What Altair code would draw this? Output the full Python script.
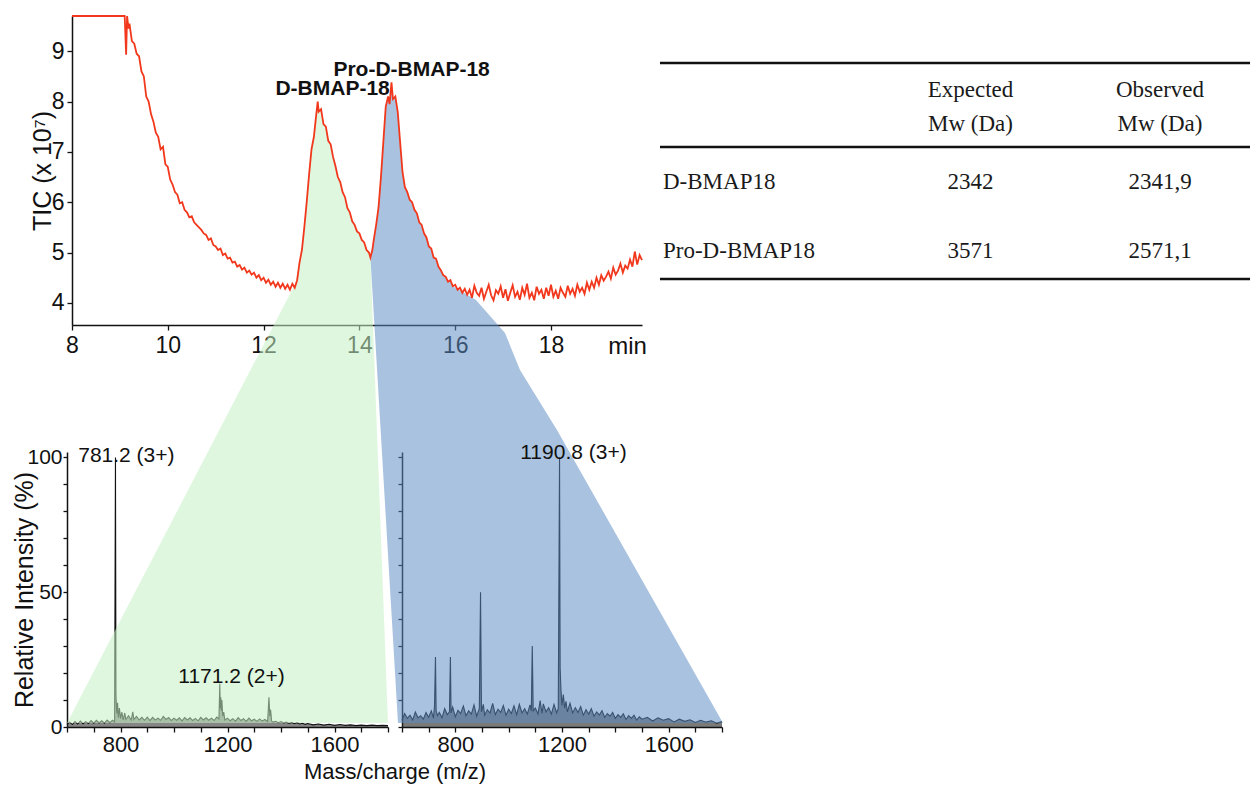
import altair as alt
import pandas as pd

# ---------------- chromatogram: TIC (x 10^7) vs time (min) ----------------
chrom_time = [
    8.0, 9.1, 9.13, 9.15, 9.18, 9.2, 9.25, 9.3, 9.35, 9.4,
    9.45, 9.5, 9.55, 9.6, 9.65, 9.7, 9.75, 9.8, 9.85, 9.9,
    9.95, 10.0, 10.05, 10.1, 10.15, 10.2, 10.25, 10.3, 10.35, 10.4,
    10.45, 10.5, 10.55, 10.6, 10.65, 10.7, 10.75, 10.8, 10.85, 10.9,
    10.95, 11.0, 11.05, 11.1, 11.15, 11.2, 11.25, 11.3, 11.35, 11.4,
    11.45, 11.5, 11.55, 11.6, 11.65, 11.7, 11.75, 11.8, 11.85, 11.9,
    11.95, 12.0, 12.05, 12.1, 12.15, 12.2, 12.25, 12.3, 12.35, 12.4,
    12.45, 12.5, 12.55, 12.6, 12.65, 12.7, 12.75, 12.8, 12.85, 12.9,
    12.95, 13.0, 13.05, 13.1, 13.13, 13.15, 13.2, 13.25, 13.3, 13.35,
    13.4, 13.45, 13.5, 13.55, 13.6, 13.65, 13.7, 13.75, 13.8, 13.85,
    13.9, 13.95, 14.0, 14.05, 14.1, 14.15, 14.2, 14.23, 14.27, 14.3,
    14.35, 14.4, 14.45, 14.5, 14.55, 14.6, 14.63, 14.67, 14.7, 14.75,
    14.8, 14.85, 14.9, 14.95, 15.0, 15.05, 15.1, 15.15, 15.2, 15.25,
    15.3, 15.35, 15.4, 15.45, 15.5, 15.55, 15.6, 15.65, 15.7, 15.75,
    15.8, 15.85, 15.9, 15.95, 16.0, 16.05, 16.1, 16.15, 16.2, 16.25,
    16.3, 16.35, 16.4, 16.45, 16.5, 16.55, 16.6, 16.65, 16.7, 16.75,
    16.8, 16.85, 16.9, 16.95, 17.0, 17.05, 17.1, 17.15, 17.2, 17.25,
    17.3, 17.35, 17.4, 17.45, 17.5, 17.55, 17.6, 17.65, 17.7, 17.75,
    17.8, 17.85, 17.9, 17.95, 18.0, 18.05, 18.1, 18.15, 18.2, 18.25,
    18.3, 18.35, 18.4, 18.45, 18.5, 18.55, 18.6, 18.65, 18.7, 18.75,
    18.8, 18.85, 18.9, 18.95, 19.0, 19.05, 19.1, 19.15, 19.2, 19.25,
    19.3, 19.35, 19.4, 19.45, 19.5, 19.55, 19.6, 19.65, 19.7, 19.75,
    19.8, 19.85, 19.9,
]
chrom_tic = [
    9.7, 9.7, 8.93, 9.7, 9.45, 9.55, 9.2, 9.15, 8.95, 8.9,
    8.6, 8.5, 8.1, 8.0, 7.75, 7.6, 7.38, 7.3, 7.05, 7.1,
    6.75, 6.7, 6.45, 6.35, 6.2, 6.15, 5.98, 6.0, 5.85, 5.8,
    5.7, 5.72, 5.6, 5.55, 5.5, 5.45, 5.38, 5.35, 5.25, 5.28,
    5.15, 5.12, 5.05, 5.08, 4.95, 4.98, 4.88, 4.9, 4.8, 4.82,
    4.72, 4.75, 4.66, 4.7, 4.6, 4.64, 4.56, 4.6, 4.5, 4.55,
    4.45, 4.5, 4.4, 4.46, 4.36, 4.42, 4.32, 4.4, 4.3, 4.38,
    4.28, 4.36, 4.26, 4.38, 4.3, 4.45, 4.8, 5.05, 5.5, 6.0,
    6.55, 7.05, 7.3, 7.75, 8.0, 7.8, 7.85, 7.55, 7.5, 7.22,
    7.15, 6.9, 6.72, 6.5, 6.4, 6.2, 6.1, 5.88, 5.8, 5.62,
    5.55, 5.42, 5.38, 5.25, 5.2, 5.05, 5.0, 4.9, 5.05, 5.25,
    5.55, 5.9, 6.5, 7.2, 7.9, 8.1, 7.95, 8.38, 8.05, 8.1,
    7.8, 7.2, 6.6, 6.3, 6.2, 6.05, 6.0, 5.85, 5.78, 5.6,
    5.55, 5.38, 5.3, 5.12, 5.08, 4.9, 4.88, 4.72, 4.65, 4.55,
    4.52, 4.42, 4.45, 4.33, 4.36, 4.26, 4.3, 4.2, 4.28, 4.16,
    4.26, 4.1, 4.34, 4.2, 4.14, 4.3, 4.08, 4.22, 4.36, 4.15,
    4.05, 4.25, 4.18, 4.33, 4.1, 4.27, 4.04, 4.2, 4.35, 4.12,
    4.22, 4.06, 4.3, 4.16, 4.38, 4.1, 4.2, 4.05, 4.32, 4.18,
    4.26, 4.08, 4.3, 4.14, 4.36, 4.12, 4.24, 4.08, 4.3, 4.2,
    4.12, 4.34, 4.18, 4.28, 4.14, 4.36, 4.22, 4.3, 4.18, 4.4,
    4.26, 4.42, 4.3, 4.5, 4.36, 4.55, 4.44, 4.52, 4.62, 4.48,
    4.7, 4.56, 4.64, 4.78, 4.6, 4.74, 4.68, 4.86, 4.72, 5.02,
    4.76, 4.95, 4.85,
]
assert len(chrom_time) == len(chrom_tic)

peak_names = ["D-BMAP-18", "Pro-D-BMAP-18"]
peak_label_time = [13.44, 15.09]
peak_label_tic = [8.25, 8.62]

# zoom bands (in chromatogram units, reaching down to the spectra)
green_corner_time = [7.896, 14.597]
green_corner_tic = [-4.35, -4.35]
green_curve_span = [12.7, 14.23]
blue_left_time = [14.806]
blue_left_tic = [-4.35]
blue_curve_span = [14.23, 15.95]
blue_right_time = [16.434, 17.04, 17.353, 18.125, 21.591]
blue_right_tic = [4.057, 3.40, 2.667, 1.474, -4.35]

# ---------------- mass spectra ----------------
spec1_mz = [
    600, 610, 620, 630, 640, 650, 660, 670, 680, 690,
    700, 710, 720, 730, 740, 750, 760, 770, 778, 781.2,
    783, 786, 789, 792, 796, 800, 805, 810, 816, 820,
    830, 840, 846, 850, 860, 870, 880, 890, 900, 910,
    920, 930, 940, 950, 960, 970, 980, 990, 1000, 1010,
    1020, 1030, 1040, 1050, 1060, 1070, 1080, 1090, 1100, 1110,
    1120, 1130, 1140, 1150, 1160, 1168, 1171.2, 1173, 1175, 1177,
    1179, 1182, 1186, 1190, 1200, 1210, 1220, 1230, 1240, 1250,
    1260, 1270, 1280, 1290, 1300, 1310, 1320, 1330, 1340, 1350,
    1355, 1358, 1361, 1365, 1370, 1380, 1390, 1400, 1410, 1420,
    1430, 1440, 1450, 1460, 1470, 1480, 1490, 1500, 1520, 1540,
    1560, 1580, 1600, 1620, 1640, 1660, 1680, 1700, 1720, 1740,
    1760, 1780, 1800,
]
spec1_int = [
    1.0, 1.8, 0.9, 2.0, 1.1, 2.2, 1.2, 2.0, 1.3, 2.4,
    1.4, 2.5, 1.5, 2.3, 1.4, 2.6, 1.6, 2.5, 1.9, 100,
    12, 5, 9, 3.5, 7, 3.2, 5.5, 2.6, 5.2, 2.8,
    4.2, 2.6, 5.6, 2.8, 3.9, 2.6, 3.6, 2.5, 3.7, 2.4,
    3.6, 2.6, 3.3, 2.5, 3.9, 2.8, 3.5, 2.4, 3.3, 2.5,
    3.4, 2.3, 3.5, 2.6, 3.4, 2.4, 3.2, 2.3, 3.6, 2.6,
    3.4, 2.5, 3.3, 2.4, 3.7, 3.0, 16, 7, 11, 6,
    10, 4, 5.5, 2.6, 3.3, 2.3, 3.1, 2.2, 3.5, 2.4,
    3.1, 2.1, 3.3, 2.3, 2.9, 2.1, 3.0, 2.2, 2.8, 2.0,
    11, 4, 6.5, 2.2, 1.8, 2.1, 1.6, 2.0, 1.5, 1.8,
    1.3, 1.7, 1.2, 1.6, 1.1, 1.4, 1.0, 1.3, 0.8, 1.1,
    0.7, 1.0, 0.6, 0.9, 0.6, 0.8, 0.5, 0.7, 0.5, 0.7,
    0.5, 0.6, 0.5,
]
assert len(spec1_mz) == len(spec1_int)

spec2_mz = [
    600, 610, 620, 630, 640, 650, 660, 670, 680, 690,
    700, 710, 718, 722, 725.5, 728, 733, 740, 750, 760,
    770, 778, 781.5, 784, 790, 800, 810, 820, 830, 840,
    850, 860, 870, 880, 890, 894.5, 898, 905, 910, 920,
    930, 940, 950, 960, 970, 980, 990, 1000, 1010, 1020,
    1030, 1040, 1050, 1060, 1070, 1080, 1085, 1088.5, 1092, 1100,
    1110, 1118, 1125, 1130, 1140, 1150, 1160, 1170, 1180, 1186,
    1190.8, 1193, 1196, 1200, 1205, 1210, 1215, 1220, 1230, 1240,
    1250, 1260, 1270, 1280, 1290, 1300, 1310, 1320, 1330, 1340,
    1350, 1360, 1370, 1380, 1390, 1400, 1410, 1420, 1430, 1440,
    1450, 1460, 1470, 1480, 1490, 1500, 1520, 1540, 1560, 1580,
    1600, 1620, 1640, 1660, 1680, 1700, 1720, 1740, 1760, 1780,
    1800,
]
spec2_int = [
    2.5, 5.0, 3.2, 4.4, 2.6, 5.6, 3.4, 4.2, 2.9, 5.4,
    3.6, 6.0, 3.3, 8, 26, 6, 4.2, 5.4, 3.4, 6.8,
    4.6, 5.6, 26, 5.2, 7.4, 3.8, 6.2, 5.0, 7.8, 4.2,
    6.0, 4.8, 8.2, 4.0, 6.9, 50, 5.6, 8.4, 4.4, 6.4,
    5.2, 8.8, 4.6, 6.6, 5.4, 8.0, 4.4, 6.6, 5.0, 7.9,
    4.6, 8.4, 5.2, 6.8, 4.8, 8.2, 6, 30, 6, 7.0,
    4.8, 9.8, 5.0, 8.6, 5.6, 7.2, 4.8, 8.4, 5.2, 7,
    100, 22, 14, 8, 12, 7, 9.5, 5.6, 8.8, 5.2,
    7.2, 5.4, 7.6, 4.4, 6.4, 4.8, 6.8, 4.0, 5.6, 4.4,
    6.0, 3.6, 5.0, 4.0, 5.4, 3.2, 4.6, 3.6, 4.9, 2.8,
    4.2, 3.2, 4.4, 2.6, 3.8, 2.9, 3.6, 2.2, 3.4, 2.5,
    3.1, 1.9, 2.9, 2.1, 2.7, 1.7, 2.5, 1.8, 2.3, 1.4,
    2.0,
]
assert len(spec2_mz) == len(spec2_int)

spec1_labels = ["781.2 (3+)", "1171.2 (2+)"]
spec1_label_mz = [822, 1215]
spec1_label_int = [100.7, 18.5]
spec2_labels = ["1190.8 (3+)"]
spec2_label_mz = [1243]
spec2_label_int = [101.7]

# ---------------- table ----------------
table_rows = ["D-BMAP18", "Pro-D-BMAP18"]
table_cols = ["Expected", "Observed"]
table_headers = ["Expected\nMw (Da)", "Observed\nMw  (Da)"]
expected_mw = ["2342", "3571"]
observed_mw = ["2341,9", "2571,1"]

# ---------------- layout / scales ----------------
W, H = 1178, 770
FONT = "Liberation Sans"
INK = "#111111"


def lin(domain, rng):
    return alt.Scale(domain=domain, range=rng, nice=False, zero=False)


CH_X = lin([8, 19.9], [0, 570])
CH_Y = lin([3.56, 9.7], [309, 0])
S1_X = lin([600, 1800], [-5, 316])
S2_X = lin([600, 1800], [330, 650])
S_Y = lin([0, 102], [711, 436])
COL_X = alt.Scale(type="point", domain=table_cols, range=[898.5, 1088], padding=0)
ROW_Y = alt.Scale(type="point", domain=table_rows, range=[166, 235], padding=0)

axis_common = dict(
    grid=False, zindex=0, domainColor=INK, tickColor=INK, labelColor=INK,
    titleColor=INK, labelFont=FONT, titleFont=FONT, titleFontWeight="normal",
    domainWidth=1.5, tickWidth=1.3, labelFlush=False, labelOverlap=False,
)

chrom_x_axis = alt.Axis(
    orient="bottom", offset=309 - H, values=[8, 10, 12, 14, 16, 18], format="d",
    labelFontSize=23, tickSize=5, labelPadding=4,
    title="min", titleX=555, titleY=9, titleAlign="center", titleBaseline="top",
    titleFontSize=24, **axis_common)
chrom_y_axis = alt.Axis(
    orient="left", offset=0, values=[4, 5, 6, 7, 8, 9], format="d",
    labelFontSize=23, tickSize=5, labelPadding=3,
    title="TIC (x 10⁷)", titleX=-17, titleBaseline="bottom", titleFontSize=25,
    **axis_common)

mz_ticks = list(range(600, 1801, 100))
int_ticks = list(range(0, 101, 10))
s1_x_axis = alt.Axis(
    orient="bottom", offset=711 - H, values=mz_ticks, format="d",
    labelExpr="datum.value % 400 == 0 ? datum.label : ''",
    labelFontSize=22, tickSize=5, labelPadding=2,
    title="Mass/charge (m/z)", titleX=322.5, titleY=51, titleAlign="center",
    titleBaseline="alphabetic", titleFontSize=22, **axis_common)
s1_y_axis = alt.Axis(
    orient="left", offset=5, values=int_ticks, format="d",
    labelExpr="datum.value % 50 == 0 ? datum.label : ''",
    labelFontSize=21, tickSize=4, labelPadding=1,
    title="Relative Intensity (%)", titleX=-30, titleBaseline="bottom",
    titleFontSize=25, **axis_common)
s2_x_axis = alt.Axis(
    orient="bottom", offset=711 - H, values=mz_ticks, format="d",
    labelExpr="datum.value % 400 == 0 ? datum.label : ''",
    labelFontSize=22, tickSize=5, labelPadding=2, title=None, **axis_common)
s2_y_axis = alt.Axis(
    orient="left", offset=-330, values=int_ticks, labels=False, tickSize=4,
    title=None, **axis_common)

# ---------------- data frames ----------------
chrom_df = pd.DataFrame({"t": chrom_time, "v": chrom_tic})
curve = list(zip(chrom_time, chrom_tic))

green_pts = ([(green_corner_time[0], green_corner_tic[0])]
             + [(t, v) for t, v in curve if green_curve_span[0] <= t <= green_curve_span[1]]
             + [(green_corner_time[1], green_corner_tic[1])])
green_df = pd.DataFrame(green_pts, columns=["t", "v"])
green_df["i"] = range(len(green_df))

blue_pts = (list(zip(blue_left_time, blue_left_tic))
            + [(t, v) for t, v in curve if blue_curve_span[0] <= t <= blue_curve_span[1]]
            + list(zip(blue_right_time, blue_right_tic)))
blue_df = pd.DataFrame(blue_pts, columns=["t", "v"])
blue_df["i"] = range(len(blue_df))

peaks_df = pd.DataFrame({"name": peak_names, "t": peak_label_time, "v": peak_label_tic})
s1_df = pd.DataFrame({"mz": spec1_mz, "I": spec1_int})
s2_df = pd.DataFrame({"mz": spec2_mz, "I": spec2_int})
s1_lab = pd.DataFrame({"txt": spec1_labels, "mz": spec1_label_mz, "I": spec1_label_int})
s2_lab = pd.DataFrame({"txt": spec2_labels, "mz": spec2_label_mz, "I": spec2_label_int})

cells = []
for r, e, o in zip(table_rows, expected_mw, observed_mw):
    cells.append({"row": r, "col": "Expected", "val": e})
    cells.append({"row": r, "col": "Observed", "val": o})
cells_df = pd.DataFrame(cells)
names_df = pd.DataFrame({"row": table_rows})
head_df = pd.DataFrame({"col": table_cols, "label": table_headers})
one = pd.DataFrame({"k": [0]})

# ---------------- layers ----------------
s1_area = alt.Chart(s1_df).mark_area(color="#222222", opacity=0.55).encode(
    x=alt.X("mz:Q", scale=S1_X, axis=s1_x_axis),
    y=alt.Y("I:Q", scale=S_Y, axis=s1_y_axis), y2=alt.datum(0))
s1_line = alt.Chart(s1_df).mark_line(color=INK, strokeWidth=1.1).encode(
    x=alt.X("mz:Q", scale=S1_X, axis=None), y=alt.Y("I:Q", scale=S_Y, axis=None))
s2_area = alt.Chart(s2_df).mark_area(color="#222222", opacity=0.6).encode(
    x=alt.X("mz:Q", scale=S2_X, axis=s2_x_axis),
    y=alt.Y("I:Q", scale=S_Y, axis=s2_y_axis), y2=alt.datum(0))
s2_line = alt.Chart(s2_df).mark_line(color=INK, strokeWidth=1.1).encode(
    x=alt.X("mz:Q", scale=S2_X, axis=None), y=alt.Y("I:Q", scale=S_Y, axis=None))

green_band = alt.Chart(green_df).mark_line(
    fill="#c4f0c4", fillOpacity=0.55, strokeWidth=0, strokeOpacity=0).encode(
    x=alt.X("t:Q", scale=CH_X, axis=None), y=alt.Y("v:Q", scale=CH_Y, axis=None),
    order="i:Q")
blue_band = alt.Chart(blue_df).mark_line(
    fill="#5d8bc2", fillOpacity=0.53, strokeWidth=0, strokeOpacity=0).encode(
    x=alt.X("t:Q", scale=CH_X, axis=None), y=alt.Y("v:Q", scale=CH_Y, axis=None),
    order="i:Q")

peak_text = alt.Chart(peaks_df).mark_text(
    font=FONT, fontSize=21, fontWeight="bold", color=INK, baseline="middle").encode(
    x=alt.X("t:Q", scale=CH_X, axis=None), y=alt.Y("v:Q", scale=CH_Y, axis=None),
    text="name:N")
tic_line = alt.Chart(chrom_df).mark_line(color="#f2381c", strokeWidth=1.8).encode(
    x=alt.X("t:Q", scale=CH_X, axis=chrom_x_axis),
    y=alt.Y("v:Q", scale=CH_Y, axis=chrom_y_axis))

s1_text = alt.Chart(s1_lab).mark_text(font=FONT, fontSize=21, color=INK, baseline="middle").encode(
    x=alt.X("mz:Q", scale=S1_X, axis=None), y=alt.Y("I:Q", scale=S_Y, axis=None), text="txt:N")
s2_text = alt.Chart(s2_lab).mark_text(font=FONT, fontSize=21, color=INK, baseline="middle").encode(
    x=alt.X("mz:Q", scale=S2_X, axis=None), y=alt.Y("I:Q", scale=S_Y, axis=None), text="txt:N")

rule_style = dict(color=INK, strokeWidth=2.5)
t_top = alt.Chart(one).mark_rule(**rule_style).encode(
    x=alt.value(588), x2=alt.value(W), y=alt.value(47))
t_mid = alt.Chart(one).mark_rule(**rule_style).encode(
    x=alt.value(588), x2=alt.value(W), y=alt.value(131))
t_bot = alt.Chart(one).mark_rule(**rule_style).encode(
    x=alt.value(588), x2=alt.value(W), y=alt.value(263))

tbl_font = dict(font="Liberation Serif", fontSize=23, color="#1a1a1a")
t_names = alt.Chart(names_df).mark_text(align="left", baseline="middle", **tbl_font).encode(
    x=alt.value(591), y=alt.Y("row:N", scale=ROW_Y, axis=None), text="row:N")
t_vals = alt.Chart(cells_df).mark_text(align="center", baseline="middle", **tbl_font).encode(
    x=alt.X("col:N", scale=COL_X, axis=None), y=alt.Y("row:N", scale=ROW_Y, axis=None),
    text="val:N")
t_head = alt.Chart(head_df).mark_text(
    align="center", baseline="middle", lineBreak="\n", lineHeight=34, **tbl_font).encode(
    x=alt.X("col:N", scale=COL_X, axis=None), y=alt.value(74), text="label:N")

chart = alt.layer(
    s1_area, s1_line, s2_area, s2_line,
    green_band, blue_band,
    peak_text, tic_line,
    s1_text, s2_text,
    t_top, t_mid, t_bot, t_names, t_vals, t_head,
).resolve_scale(
    x="independent", y="independent"
).properties(
    width=W, height=H,
    autosize=alt.AutoSizeParams(type="none"),
    padding={"left": 64, "top": 8, "right": 0, "bottom": 0},
).configure_view(strokeWidth=0)

chart.save("out.html", embed_options={"renderer": "svg", "actions": False})
